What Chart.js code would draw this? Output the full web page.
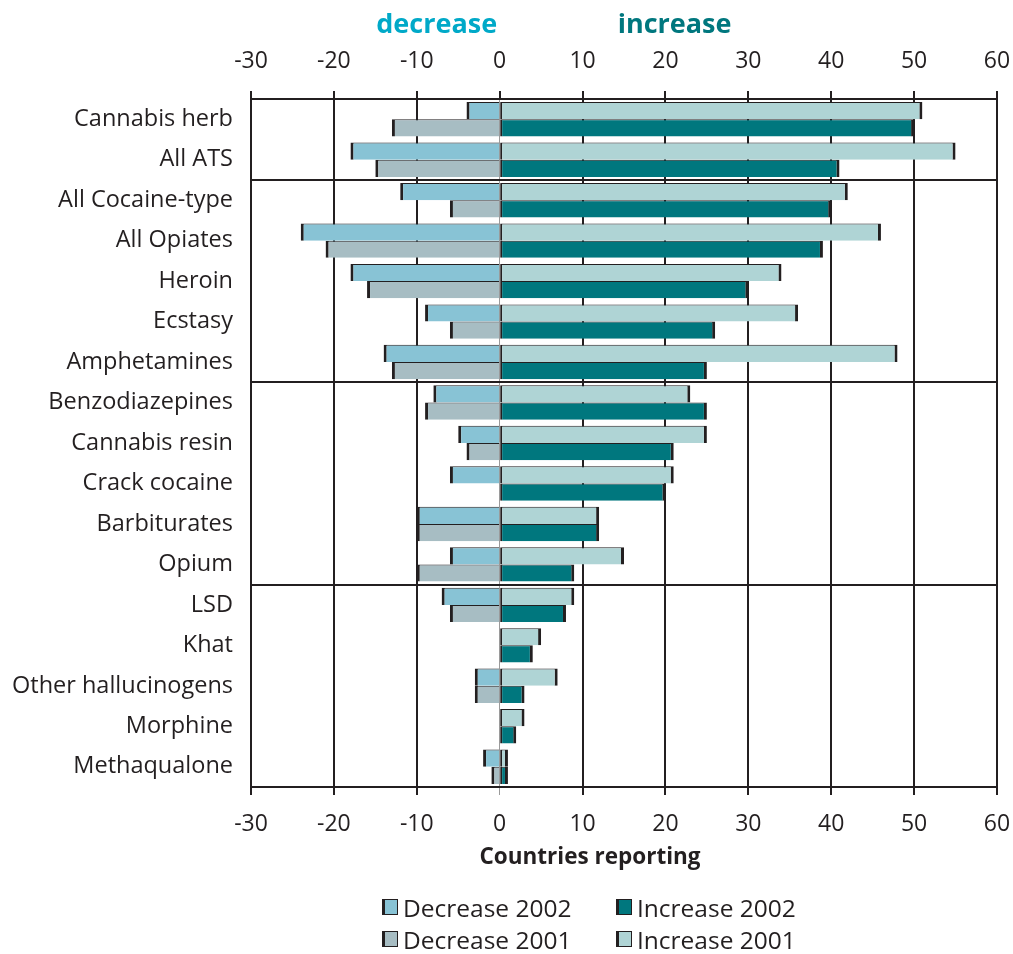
<!DOCTYPE html>
<html>
<head>
<meta charset="utf-8">
<script src="https://cdn.jsdelivr.net/npm/chart.js@4.4.1/dist/chart.umd.min.js"></script>
<style>
    body { margin: 0; background: #fff; }
    #cadre { position: relative; width: 1013px; height: 954px; }
    #legende { position: absolute; left: 382px; top: 893px; display: grid; grid-template-columns: 234px 200px; row-gap: 4px;
        font-family: "Open Sans", sans-serif; font-size: 24.5px; color: #231f20; }
    .item { display: flex; align-items: center; height: 28px; }
    .boite { width: 12px; height: 14px; border: 1px solid #231f20; border-left: 3px solid #231f20; margin-right: 5px; }
</style>
</head>
<body>
<div id="cadre">
    <canvas id="canvas_pays"></canvas>
    <div id="legende"></div>
</div>
<script>
const categories = ['Cannabis herb', 'All ATS', 'All Cocaine-type', 'All Opiates', 'Heroin', 'Ecstasy', 'Amphetamines',
    'Benzodiazepines', 'Cannabis resin', 'Crack cocaine', 'Barbiturates', 'Opium', 'LSD', 'Khat',
    'Other hallucinogens', 'Morphine', 'Methaqualone'];
const decrease_2002 = [-4, -18, -12, -24, -18, -9, -14, -8, -5, -6, -10, -6, -7, 0, -3, 0, -2];
const decrease_2001 = [-13, -15, -6, -21, -16, -6, -13, -9, -4, 0, -10, -10, -6, 0, -3, 0, -1];
const increase_2002 = [50, 41, 40, 39, 30, 26, 25, 25, 21, 20, 12, 9, 8, 4, 3, 2, 1];
const increase_2001 = [51, 55, 42, 46, 34, 36, 48, 23, 25, 21, 12, 15, 9, 5, 7, 3, 1];
const tick_values = [-30, -20, -10, 0, 10, 20, 30, 40, 50, 60];
const separateurs = [0, 2, 7, 12, 17];

const noir = '#231f20';
const police = '"Open Sans", sans-serif';

function bordure(context) {
    let v = context.raw;
    if (!v) return 0;
    if (v > 0) return {left: 2, right: 3, top: 1, bottom: 0};
    return {left: 3, right: 0, top: 1, bottom: 0};
}

let datasets = [
    {label: 'Decrease 2002', data: decrease_2002, backgroundColor: '#88c3d5', stack: 'haut'},
    {label: 'Increase 2002', data: increase_2002, backgroundColor: '#00777e', stack: 'bas'},
    {label: 'Decrease 2001', data: decrease_2001, backgroundColor: '#a7bdc3', stack: 'bas'},
    {label: 'Increase 2001', data: increase_2001, backgroundColor: '#afd4d5', stack: 'haut'}
];
for (let count = 0; count < datasets.length; count++) {
    datasets[count].borderColor = noir;
    datasets[count].borderWidth = bordure;
    datasets[count].borderSkipped = false;
    datasets[count].categoryPercentage = 0.85;
    datasets[count].barPercentage = 1.0;
}

const textes_plugin = {
    id: 'textes',
    afterDraw(chart) {
        const ctx = chart.ctx;
        const x = chart.scales.x;
        ctx.save();
        ctx.textAlign = 'center';
        ctx.textBaseline = 'middle';
        ctx.font = 'bold 27px ' + police;
        ctx.fillStyle = '#00a9c8';
        ctx.fillText('decrease', x.getPixelForValue(-7.6), 25);
        ctx.fillStyle = '#00777e';
        ctx.fillText('increase', x.getPixelForValue(21.1), 25);
        ctx.font = 'bold 22.5px ' + police;
        ctx.fillStyle = noir;
        ctx.fillText('Countries reporting', x.getPixelForValue(10.9), 858);
        ctx.restore();
    }
};

function sans_marge(scale) {
    scale.paddingLeft = 0;
    scale.paddingRight = 0;
}

let options = {
    responsive: true,
    maintainAspectRatio: false,
    animation: false,
    indexAxis: 'y',
    layout: {padding: {left: 0, right: 16, top: 0, bottom: 107}},
    plugins: {legend: {display: false}, tooltip: {enabled: false}},
    scales: {
        x: {
            position: 'bottom',
            stacked: true,
            min: -30,
            max: 60,
            afterBuildTicks: function (scale) { scale.ticks = tick_values.map(v => ({value: v})); },
            afterFit: function (scale) { scale.height = 60; sans_marge(scale); },
            ticks: {color: noir, font: {family: police, size: 23}, padding: 16},
            grid: {
                color: (c) => c.tick && c.tick.value === 0 ? '#9a9a9a' : noir,
                lineWidth: (c) => c.tick && c.tick.value === 0 ? 1 : 2,
                tickLength: 8
            },
            border: {display: true, color: noir, width: 2}
        },
        x2: {
            position: 'top',
            min: -30,
            max: 60,
            afterBuildTicks: function (scale) { scale.ticks = tick_values.map(v => ({value: v})); },
            afterFit: function (scale) { scale.height = 99; sans_marge(scale); },
            ticks: {color: noir, font: {family: police, size: 23}, padding: 16},
            grid: {drawOnChartArea: false, color: noir, lineWidth: 2, tickLength: 8},
            border: {display: true, color: noir, width: 2}
        },
        y: {
            type: 'category',
            labels: categories,
            afterFit: function (scale) { scale.width = 251; scale.paddingTop = 0; scale.paddingBottom = 0; },
            ticks: {color: noir, font: {family: police, size: 23.5}, padding: 18},
            grid: {
                offset: true,
                drawTicks: false,
                color: (c) => separateurs.indexOf(c.index) >= 0 ? noir : 'rgba(0,0,0,0)',
                lineWidth: 2
            },
            border: {display: false}
        }
    }
};

const graph = new Chart(document.getElementById('canvas_pays'), {
    type: 'bar',
    data: {labels: categories, datasets: datasets},
    options: options,
    plugins: [textes_plugin]
});

// legende en 2 colonnes comme l'original
const ordre_legende = [0, 1, 2, 3];
let legende = document.getElementById('legende');
for (let count = 0; count < ordre_legende.length; count++) {
    let d = datasets[ordre_legende[count]];
    let item = document.createElement('div');
    item.className = 'item';
    item.innerHTML = '<span class="boite" style="background:' + d.backgroundColor + '"></span>' + d.label;
    legende.appendChild(item);
}
</script>
</body>
</html>
